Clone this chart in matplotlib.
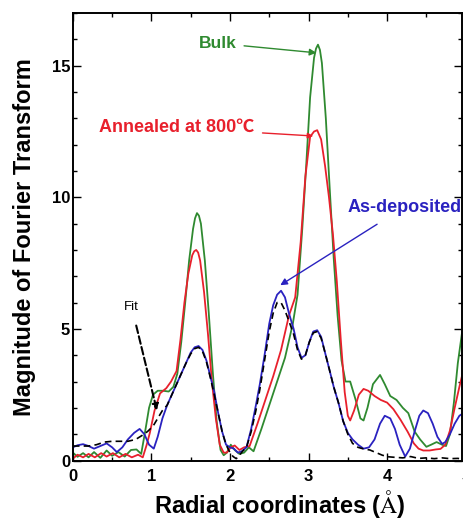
import matplotlib
matplotlib.use("Agg")
import matplotlib.pyplot as plt
from matplotlib.ticker import MultipleLocator

plt.rcParams['font.family'] = ['Liberation Sans', 'DejaVu Sans']
plt.rcParams['mathtext.fontset'] = 'stix'

# ---- data ----
bulk_x = [0.00, 0.06, 0.13, 0.20, 0.27, 0.35, 0.43, 0.50, 0.58, 0.66, 0.74, 0.81, 0.87, 0.92, 0.97,
          1.02, 1.08, 1.15, 1.22, 1.28, 1.33, 1.38, 1.43, 1.48, 1.53, 1.555, 1.58, 1.605, 1.63, 1.68,
          1.73, 1.78, 1.83, 1.88, 1.92, 1.96, 2.01, 2.06, 2.12, 2.18, 2.24, 2.30, 2.40, 2.50, 2.60,
          2.70, 2.80, 2.86, 2.92, 2.97, 3.02, 3.07, 3.095, 3.12, 3.145, 3.17, 3.22, 3.27, 3.32, 3.37,
          3.42, 3.47, 3.53, 3.60, 3.66, 3.70, 3.75, 3.82, 3.91, 3.97, 4.04, 4.12, 4.20, 4.27, 4.35,
          4.42, 4.50, 4.56, 4.63, 4.70, 4.75, 4.80, 4.85, 4.90, 4.96]
bulk_y = [0.30, 0.14, 0.28, 0.12, 0.32, 0.10, 0.38, 0.18, 0.32, 0.15, 0.40, 0.42, 0.25, 1.10, 2.00,
          2.50, 2.65, 2.65, 2.62, 2.80, 3.30, 4.50, 6.00, 7.60, 8.80, 9.20, 9.40, 9.30, 9.00, 7.60,
          5.60, 3.40, 1.50, 0.40, 0.20, 0.30, 0.60, 0.40, 0.25, 0.30, 0.50, 0.35, 1.20, 2.10, 3.00,
          3.90, 5.20, 6.30, 8.80, 11.2, 13.8, 15.3, 15.65, 15.8, 15.6, 15.1, 13.0, 10.3, 7.70, 5.50,
          3.80, 3.00, 3.00, 2.30, 1.60, 1.52, 2.00, 2.90, 3.25, 2.90, 2.45, 2.30, 2.00, 1.80, 1.10,
          0.80, 0.52, 0.60, 0.70, 0.60, 0.55, 1.00, 2.20, 3.70, 5.00]

ann_x = [0.00, 0.06, 0.13, 0.20, 0.28, 0.36, 0.43, 0.51, 0.59, 0.67, 0.75, 0.83, 0.89, 0.94, 0.98,
         1.04, 1.11, 1.19, 1.25, 1.32, 1.37, 1.42, 1.47, 1.52, 1.545, 1.57, 1.595, 1.62, 1.67, 1.72,
         1.77, 1.82, 1.87, 1.92, 1.96, 2.01, 2.06, 2.12, 2.18, 2.25, 2.35, 2.45, 2.55, 2.65, 2.75,
         2.83, 2.90, 2.96, 3.02, 3.07, 3.11, 3.16, 3.21, 3.26, 3.31, 3.36, 3.41, 3.46, 3.50, 3.53,
         3.58, 3.64, 3.70, 3.76, 3.84, 3.92, 4.00, 4.08, 4.17, 4.26, 4.34, 4.40, 4.46, 4.54, 4.62,
         4.68, 4.74, 4.80, 4.86, 4.92, 4.96]
ann_y = [0.07, 0.22, 0.12, 0.25, 0.12, 0.28, 0.15, 0.28, 0.12, 0.25, 0.12, 0.22, 0.12, 0.60, 1.05,
         1.90, 2.55, 2.75, 3.00, 3.40, 4.60, 6.00, 7.10, 7.80, 7.95, 8.00, 7.90, 7.60, 6.40, 4.80,
         3.00, 1.60, 0.60, 0.30, 0.30, 0.50, 0.57, 0.40, 0.50, 0.55, 1.40, 2.30, 3.20, 4.20, 5.50,
         6.20, 8.30, 10.8, 12.3, 12.5, 12.55, 12.2, 11.2, 10.0, 8.60, 6.80, 4.60, 2.60, 1.70, 1.52,
         1.90, 2.50, 2.72, 2.65, 2.45, 2.30, 2.20, 1.95, 1.55, 1.10, 0.65, 0.45, 0.38, 0.38, 0.42,
         0.44, 0.60, 1.14, 2.00, 2.80, 3.30]

asdep_x = [0.00, 0.06, 0.13, 0.20, 0.27, 0.35, 0.43, 0.50, 0.56, 0.63, 0.70, 0.78, 0.85, 0.91, 0.97,
           1.03, 1.08, 1.14, 1.20, 1.26, 1.32, 1.38, 1.44, 1.50, 1.55, 1.60, 1.65, 1.70, 1.75, 1.80,
           1.85, 1.90, 1.95, 2.00, 2.05, 2.10, 2.15, 2.21, 2.27, 2.33, 2.38, 2.44, 2.50, 2.55, 2.60,
           2.65, 2.70, 2.75, 2.81, 2.86, 2.91, 2.96, 3.01, 3.06, 3.11, 3.16, 3.21, 3.27, 3.32, 3.38,
           3.44, 3.50, 3.56, 3.63, 3.70, 3.77, 3.84, 3.91, 3.97, 4.04, 4.10, 4.16, 4.23, 4.29, 4.35,
           4.41, 4.46, 4.52, 4.58, 4.64, 4.70, 4.74, 4.80, 4.86, 4.92, 4.97]
asdep_y = [0.50, 0.58, 0.62, 0.55, 0.45, 0.55, 0.65, 0.50, 0.32, 0.50, 0.80, 1.05, 1.20, 1.00, 0.60,
           0.45, 0.90, 1.60, 2.10, 2.50, 2.90, 3.30, 3.70, 4.10, 4.30, 4.35, 4.20, 3.80, 3.20, 2.60,
           1.80, 1.10, 0.60, 0.50, 0.45, 0.30, 0.35, 0.50, 1.20, 2.10, 2.90, 4.00, 5.20, 5.90, 6.30,
           6.45, 6.20, 5.60, 5.00, 4.30, 3.90, 4.00, 4.50, 4.90, 4.95, 4.70, 4.10, 3.40, 2.80, 2.20,
           1.50, 1.05, 0.80, 0.60, 0.45, 0.50, 0.80, 1.40, 1.70, 1.60, 1.20, 0.60, 0.15, 0.45, 1.10,
           1.70, 1.90, 1.80, 1.40, 0.90, 0.63, 0.70, 1.00, 1.40, 1.70, 1.80]

fit_x = [0.00, 0.10, 0.20, 0.30, 0.40, 0.50, 0.60, 0.70, 0.80, 0.88, 0.95, 1.02, 1.08, 1.14, 1.20,
         1.26, 1.32, 1.38, 1.44, 1.50, 1.55, 1.60, 1.65, 1.70, 1.75, 1.80, 1.85, 1.90, 1.95, 2.00,
         2.04, 2.08, 2.12, 2.16, 2.21, 2.27, 2.33, 2.38, 2.44, 2.50, 2.55, 2.60, 2.65, 2.70, 2.75,
         2.81, 2.86, 2.91, 2.96, 3.01, 3.06, 3.11, 3.16, 3.21, 3.27, 3.32, 3.38, 3.44, 3.50, 3.56,
         3.63, 3.70, 3.78, 3.86, 3.94, 4.02, 4.10, 4.20, 4.30, 4.40, 4.50, 4.60, 4.70, 4.80, 4.90, 4.97]
fit_y = [0.55, 0.55, 0.55, 0.60, 0.70, 0.73, 0.73, 0.73, 0.80, 0.95, 1.10, 1.30, 1.60, 1.90, 2.10,
         2.50, 2.90, 3.30, 3.70, 4.05, 4.25, 4.30, 4.15, 3.75, 3.15, 2.50, 1.80, 1.10, 0.60, 0.30,
         0.15, 0.07, 0.20, 0.35, 0.50, 1.10, 1.90, 2.70, 3.80, 4.90, 5.60, 6.00, 6.00, 5.70, 5.30,
         4.80, 4.20, 3.85, 4.00, 4.50, 4.85, 4.90, 4.65, 4.10, 3.40, 2.80, 2.20, 1.50, 1.00, 0.65,
         0.50, 0.44, 0.40, 0.30, 0.20, 0.14, 0.12, 0.10, 0.15, 0.08, 0.10, 0.07, 0.10, 0.07, 0.08, 0.05]

x_ticks = [0, 1, 2, 3, 4]
y_ticks = [0, 5, 10, 15]

GREEN = '#2f8a30'
RED = '#e8202c'
BLUE = '#2a22c0'

fig = plt.figure(figsize=(4.64, 5.23), dpi=100)
ax = fig.add_axes([0.157, 0.1195, 0.839, 0.8555])

ax.plot(bulk_x, bulk_y, color=GREEN, lw=1.3)
ax.plot(ann_x, ann_y, color=RED, lw=1.3)
ax.plot(asdep_x, asdep_y, color=BLUE, lw=1.3)
ax.plot(fit_x, fit_y, color='black', lw=1.2, ls=(0, (4, 2.5)))

ax.set_xlim(0, 4.955)
ax.set_ylim(0, 17)
ax.set_xticks(x_ticks)
ax.set_yticks(y_ticks)
ax.xaxis.set_minor_locator(MultipleLocator(0.5))
ax.yaxis.set_minor_locator(MultipleLocator(1))
ax.tick_params(which='both', direction='in', top=True, right=True, width=1.0)
ax.tick_params(which='major', length=6)
ax.tick_params(which='minor', length=3)
ax.tick_params(axis='x', pad=6)
ax.tick_params(axis='y', pad=2)
for lab in ax.get_xticklabels() + ax.get_yticklabels():
    lab.set_fontsize(12)
    lab.set_fontweight('bold')
for s in ax.spines.values():
    s.set_linewidth(1.4)

# partially visible "5" tick label at the cut-off right edge
ax.text(5, -0.019, '5', transform=ax.get_xaxis_transform(), ha='center', va='top',
        fontsize=12, fontweight='bold', clip_on=False)

ax.set_xlabel(r'Radial coordinates ($\mathrm{\AA}$)', fontsize=17, fontweight='bold', labelpad=3)
ax.xaxis.set_label_coords(0.532, -0.062, transform=ax.transAxes)
ax.xaxis.label.set_va('top')
ax.set_ylabel('Magnitude of Fourier Transform', fontsize=17, fontweight='bold', labelpad=11)

ax.annotate('Bulk', xy=(3.10, 15.49), xytext=(1.85, 15.85), color=GREEN,
            fontsize=12.5, fontweight='bold', ha='center', va='center',
            arrowprops=dict(arrowstyle='-|>', color=GREEN, lw=1.0, mutation_scale=10,
                            shrinkA=3, shrinkB=0))
ax.annotate('Annealed at 800\u2103', xy=(3.06, 12.33), xytext=(1.32, 12.64), color=RED,
            fontsize=13, fontweight='bold', ha='center', va='center',
            family=['Liberation Sans', 'Noto Sans CJK SC'],
            arrowprops=dict(arrowstyle='-|>', color=RED, lw=1.0, mutation_scale=8,
                            shrinkA=4, shrinkB=0))
ax.annotate('As-deposited', xy=(2.64, 6.66), xytext=(4.22, 9.63), color=BLUE,
            fontsize=13, fontweight='bold', ha='center', va='center',
            arrowprops=dict(arrowstyle='-|>', color=BLUE, lw=1.0, mutation_scale=10,
                            shrinkA=8, shrinkB=0))
ax.annotate('Fit', xy=(1.07, 1.9), xytext=(0.75, 5.82), color='black',
            fontsize=9.5, ha='center', va='center',
            arrowprops=dict(arrowstyle='-|>', color='black', lw=1.5, ls='--',
                            mutation_scale=9, shrinkA=7, shrinkB=0))

fig.savefig('out.png', dpi=100)
